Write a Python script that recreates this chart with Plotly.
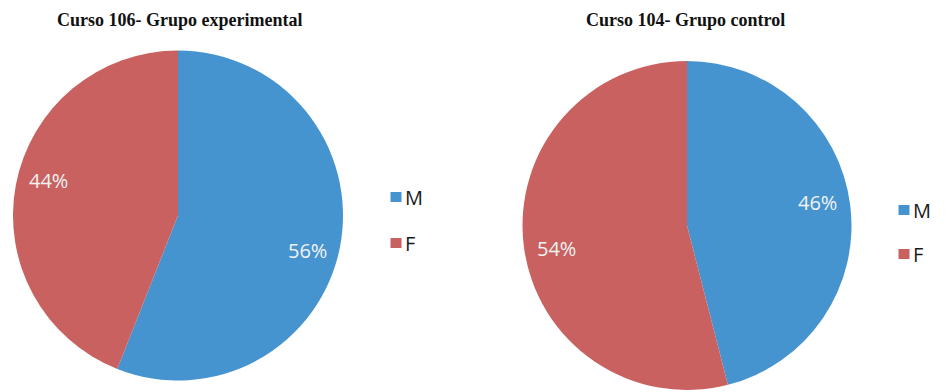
import math
import plotly.graph_objects as go

# Data
categories = ["M", "F"]
experimental_pct = [56, 44]   # Curso 106 - Grupo experimental
control_pct = [46, 54]        # Curso 104 - Grupo control
titles = ["Curso 106- Grupo experimental", "Curso 104- Grupo control"]
colors = ["#4694CF", "#C8615F"]

W, H = 945, 392

# Pie placement in pixels (centre x, centre y from top, radius)
pies = [
    dict(values=experimental_pct, title=titles[0], cx=178, cy=215.5, r=165,
         legend_x=396, legend_y=[197, 243], title_x=179),
    dict(values=control_pct, title=titles[1], cx=687, cy=225.5, r=164.5,
         legend_x=904, legend_y=[210, 254], title_x=685),
]

fig = go.Figure()
annotations = []
shapes = []

for p in pies:
    cx, cy, r = p["cx"], p["cy"], p["r"]
    fig.add_trace(go.Pie(
        labels=categories,
        values=p["values"],
        marker=dict(colors=colors, line=dict(width=0)),
        sort=False,
        direction="clockwise",
        rotation=0,
        textinfo="none",
        hoverinfo="label+percent",
        showlegend=False,
        domain=dict(x=[(cx - r) / W, (cx + r) / W],
                    y=[1 - (cy + r) / H, 1 - (cy - r) / H]),
    ))

    # Percentage labels placed along each slice's mid-angle
    total = sum(p["values"])
    start = 0.0
    for v in p["values"]:
        span = 360.0 * v / total
        mid = math.radians(start + span / 2)
        start += span
        rr = 0.8 * r
        x = cx + rr * math.sin(mid)
        y = cy - 1.4 * rr * math.cos(mid)
        annotations.append(dict(
            x=x / W, y=1 - y / H, xref="paper", yref="paper",
            text=f"{round(100 * v / total)}%", showarrow=False,
            font=dict(family="Open Sans", size=20, color="#F2F2F2"),
            xanchor="center", yanchor="middle",
        ))

    # Chart title
    annotations.append(dict(
        x=p["title_x"] / W, y=1 - 20 / H, xref="paper", yref="paper",
        text=f"<b>{p['title']}</b>", showarrow=False,
        font=dict(family="Liberation Serif", size=18, color="#111111"),
        xanchor="center", yanchor="middle",
    ))

    # Legend: coloured square + category name
    for cat, col, ly in zip(categories, colors, p["legend_y"]):
        lx = p["legend_x"]
        shapes.append(dict(
            type="rect", xref="paper", yref="paper",
            x0=(lx - 5.5) / W, x1=(lx + 5.5) / W,
            y0=1 - (ly + 5) / H, y1=1 - (ly - 5) / H,
            fillcolor=col, line=dict(width=0),
        ))
        annotations.append(dict(
            x=(lx + 7) / W, y=1 - ly / H, xref="paper", yref="paper",
            text=cat, showarrow=False,
            font=dict(family="Open Sans", size=20, color="#1a1a1a"),
            xanchor="left", yanchor="middle",
        ))

fig.update_layout(
    width=W, height=H,
    margin=dict(l=0, r=0, t=0, b=0),
    paper_bgcolor="white",
    plot_bgcolor="white",
    annotations=annotations,
    shapes=shapes,
)

fig.write_html("out.html")
